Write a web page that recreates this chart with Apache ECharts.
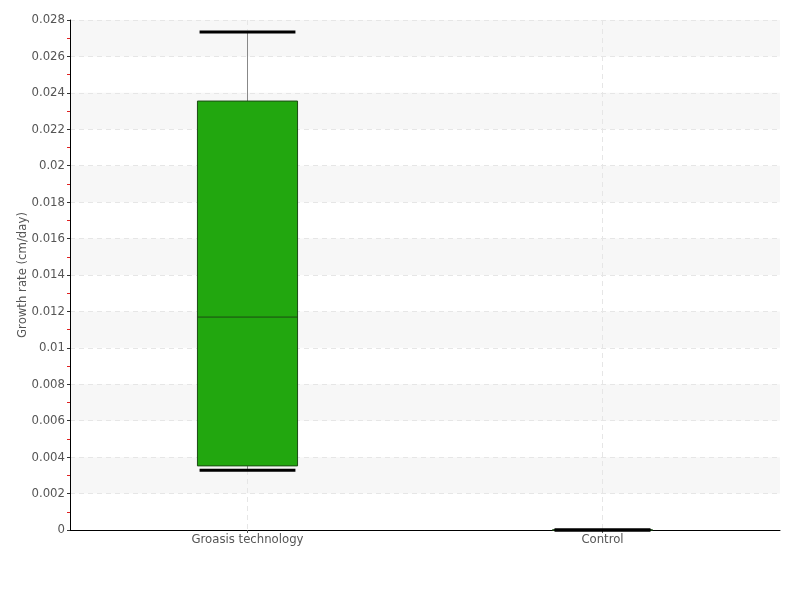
<!DOCTYPE html>
<html><head><meta charset="utf-8">
<script src="https://cdn.jsdelivr.net/npm/echarts@6/dist/echarts.min.js"></script>
<style>html,body{margin:0;padding:0;background:#fff}#c{width:800px;height:600px}</style>
</head><body><div id="c"></div>
<script>
const categories = ['Groasis technology', 'Control'];
// [lowerWhisker, Q1, median, Q3, upperWhisker]
const boxStats = [
  [0.00328, 0.00352, 0.01169, 0.02355, 0.02734],
  [0, 0, 0, 0, 0]
];
const FONT = '"DejaVu Sans Condensed", sans-serif';
const chart = echarts.init(document.getElementById('c'));
chart.setOption({
  animation: false,
  grid: {left: 70, right: 20, top: 20, bottom: 70},
  xAxis: {
    type: 'category', data: categories,
    axisLine: {lineStyle: {color: '#000', width: 1}},
    axisTick: {show: true, alignWithLabel: true, length: 3, lineStyle: {color: '#555'}},
    axisLabel: {color: '#555', fontFamily: FONT, fontSize: 13, margin: 3},
    splitLine: {show: true, alignWithLabel: true, lineStyle: {color: '#e6e6e6', type: [5, 4]}}
  },
  yAxis: {
    type: 'value', min: 0, max: 0.028, interval: 0.002,
    name: 'Growth rate (cm/day)', nameLocation: 'middle', nameGap: 41, nameMoveOverlap: false,
    nameTextStyle: {color: '#555', fontFamily: FONT, fontSize: 13},
    axisLine: {show: true, lineStyle: {color: '#000'}},
    axisTick: {show: true, length: 3, lineStyle: {color: '#333'}},
    minorTick: {show: true, splitNumber: 2, length: 3, lineStyle: {color: '#e02020'}},
    axisLabel: {color: '#555', fontFamily: FONT, fontSize: 13, margin: 5,
      formatter: v => String(parseFloat(v.toFixed(4)))},
    splitLine: {show: true, lineStyle: {color: '#e6e6e6', type: [5, 4]}},
    splitArea: {show: true, areaStyle: {color: ['rgba(255,255,255,0)', '#f7f7f7']}}
  },
  series: [{
    type: 'custom',
    data: boxStats.map((s, i) => [i].concat(s)),
    encode: {x: 0, y: [1, 2, 3, 4, 5]},
    renderItem: function (params, api) {
      const i = api.value(0);
      const lo = api.coord([i, api.value(1)]);
      const q1 = api.coord([i, api.value(2)]);
      const md = api.coord([i, api.value(3)]);
      const q3 = api.coord([i, api.value(4)]);
      const hi = api.coord([i, api.value(5)]);
      const band = api.size([1, 0])[0];
      const bw = band * 0.282, cw = band * 0.27;
      const x = lo[0];
      return {type: 'group', children: [
        {type: 'line', shape: {x1: x, y1: hi[1], x2: x, y2: lo[1]}, style: {stroke: '#888', lineWidth: 1}},
        {type: 'rect', shape: {x: x - bw / 2, y: q3[1], width: bw, height: q1[1] - q3[1]},
          style: {fill: '#22a70f', stroke: '#1c4a14', lineWidth: 1}},
        {type: 'line', shape: {x1: x - bw / 2, y1: md[1], x2: x + bw / 2, y2: md[1]}, style: {stroke: '#1c4a14', lineWidth: 1}},
        {type: 'line', shape: {x1: x - cw / 2, y1: hi[1], x2: x + cw / 2, y2: hi[1]}, style: {stroke: '#000', lineWidth: 3}},
        {type: 'line', shape: {x1: x - cw / 2, y1: lo[1], x2: x + cw / 2, y2: lo[1]}, style: {stroke: '#000', lineWidth: 3}}
      ]};
    },
    clip: false
  }]
});
</script></body></html>
